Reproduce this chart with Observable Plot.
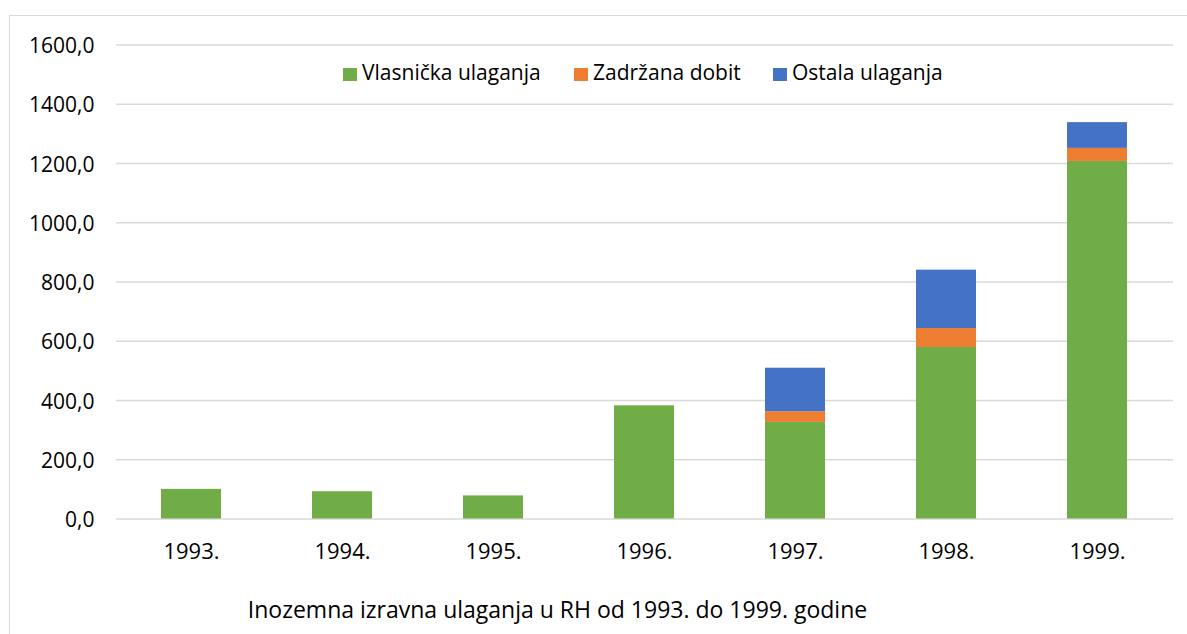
<!DOCTYPE html>
<html>
<head>
<meta charset="utf-8">
<script src="https://cdn.jsdelivr.net/npm/d3@7"></script>
<script src="https://cdn.jsdelivr.net/npm/@observablehq/plot@0.6"></script>
<style>
  body { margin: 0; background: #fff; }
  #wrap { position: relative; width: 1187px; height: 634px; overflow: hidden; background: #fff; font-family: "Open Sans", sans-serif; color: #000; }
  #frame { position: absolute; left: 9px; top: 15px; width: 1200px; height: 700px; border: 1px solid #d9d9d9; box-sizing: border-box; }
  #chart { position: absolute; left: 0; top: 0; }
  #legend { position: absolute; left: 0; top: 60px; width: 1187px; height: 24px; line-height: 24px; font-size: 21px; }
  .item { position: absolute; top: 0; white-space: nowrap; }
  .sw { display: inline-block; width: 14px; height: 13px; margin-right: 5px; vertical-align: -1px; }
  #caption { position: absolute; left: 0; width: 1115px; top: 595px; text-align: center; font-size: 23px; line-height: 28px; }
</style>
</head>
<body>
<div id="wrap">
  <div id="frame"></div>
  <div id="chart"></div>
  <div id="legend"></div>
  <div id="caption"></div>
</div>
<script>
const years = ["1993.", "1994.", "1995.", "1996.", "1997.", "1998.", "1999."];
const seriesNames = ["Vlasnička ulaganja", "Zadržana dobit", "Ostala ulaganja"];
const seriesColors = ["#70AD47", "#ED7D31", "#4472C4"];
const vlasnicka = [100, 92, 78, 382, 326, 579, 1207];
const zadrzana = [0, 0, 0, 0, 36, 64, 44];
const ostala = [0, 0, 0, 0, 147, 197, 87];
const yTicks = [0, 200, 400, 600, 800, 1000, 1200, 1400, 1600];
const captionText = "Inozemna izravna ulaganja u RH od 1993. do 1999. godine";

const seriesValues = [vlasnicka, zadrzana, ostala];
const rows = [];
seriesNames.forEach((s, si) => {
  years.forEach((y, i) => rows.push({ year: y, series: s, value: seriesValues[si][i] }));
});

const fmt = d => d.toFixed(1).replace(".", ",");

const chart = Plot.plot({
  width: 1187,
  height: 634,
  marginLeft: 116,
  marginRight: 14,
  marginTop: 44.5,
  marginBottom: 115.5,
  style: { fontFamily: "Open Sans, sans-serif", fontSize: "21px", color: "#000", background: "transparent", overflow: "visible" },
  x: { domain: years, paddingInner: 0.6, paddingOuter: 0.3, label: null },
  y: { domain: [0, 1600], ticks: yTicks, label: null },
  color: { domain: seriesNames, range: seriesColors },
  marks: [
    Plot.ruleY(yTicks, { stroke: "#d9d9d9", strokeWidth: 1.3 }),
    Plot.barY(rows, { x: "year", y: "value", fill: "series" }),
    Plot.axisY({ ticks: yTicks, tickSize: 0, tickPadding: 22, tickFormat: fmt, label: null, fontSize: 21, dy: 1.5 }),
    Plot.axisX({ tickSize: 0, tickPadding: 24, label: null, fontSize: 22 })
  ]
});
document.getElementById("chart").appendChild(chart);

const legend = document.getElementById("legend");
const legendX = [343, 574, 773];
seriesNames.forEach((s, i) => {
  const it = document.createElement("div");
  it.className = "item";
  it.style.left = legendX[i] + "px";
  const sw = document.createElement("span");
  sw.className = "sw";
  sw.style.background = seriesColors[i];
  it.appendChild(sw);
  it.appendChild(document.createTextNode(s));
  legend.appendChild(it);
});
document.getElementById("caption").textContent = captionText;
</script>
</body>
</html>
